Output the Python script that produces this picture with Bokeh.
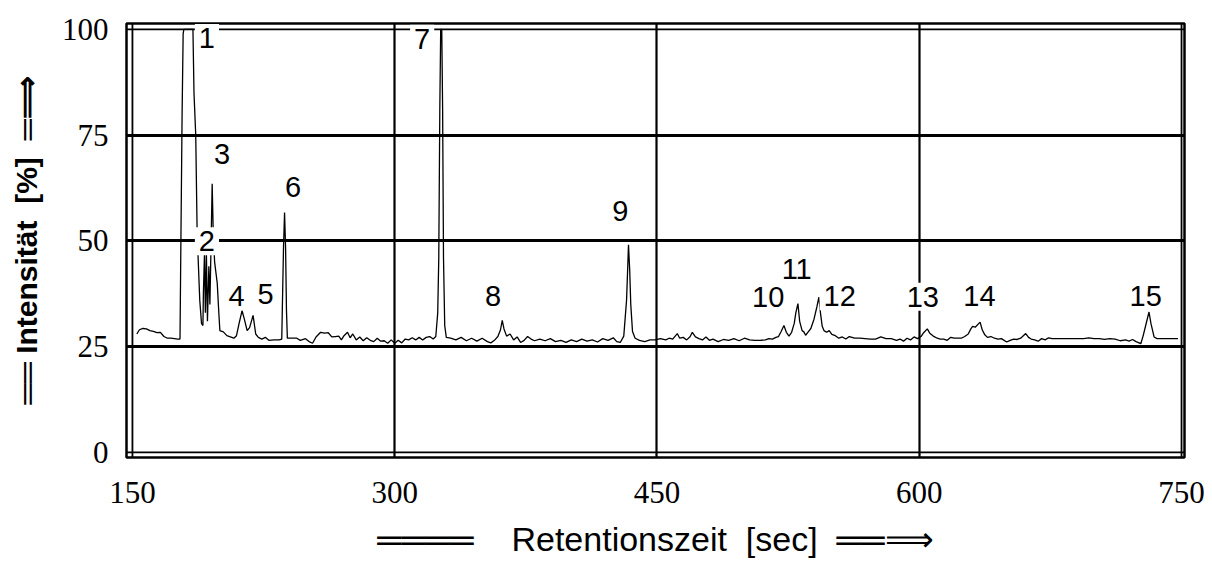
from bokeh.plotting import figure
from bokeh.models import Range1d, Span, ColumnDataSource, FixedTicker
from bokeh.core.properties import value
from bokeh.embed import file_html
from bokeh.resources import INLINE

# Retention time [sec] and intensity [%]
time_s = [152.5, 154, 156, 158, 160, 162, 164, 166, 168, 170, 172, 174, 176, 177.2, 177.6, 178.4, 179, 179.4,
          184.6, 185.2, 186.2, 187.0, 188.5, 189.5, 190.3, 190.6, 191.2, 191.7, 192.3, 192.9, 193.7, 194.3, 195.0,
          195.6, 196.2, 197.0, 198.5, 199.4, 200.0, 202, 204, 206, 208, 209.5, 211, 212.7, 214, 215.6, 217, 219,
          220.5, 222, 224, 226, 228, 231, 234, 235.4, 235.7, 236.4, 237.0, 237.6, 238.1, 238.6, 241, 244, 246, 249,
          251, 253, 255, 257.6, 260, 262, 264, 266, 268, 269.5, 271, 273, 274.5, 276, 278, 280, 282, 284, 286, 288,
          290, 292, 294, 296, 298, 300, 302, 304, 306, 308, 310, 312, 314, 316, 318, 320, 322, 323.5, 324.6, 325.2,
          325.8, 326.3, 326.9, 327.4, 327.9, 328.6, 329.5, 332, 335, 338, 341, 344, 347, 350, 353, 355, 357, 359,
          360.5, 361.5, 362.5, 364, 366, 368, 370, 372, 374, 376, 378, 380, 383, 386, 389, 392, 395, 398, 401, 404,
          407, 410, 413, 416, 419, 422, 425, 427, 429, 431, 432.6, 433.2, 433.7, 434.4, 435.0, 436.0, 437.5, 440,
          443, 446, 449, 452, 455, 457, 459, 461.6, 463, 465, 467, 469, 470.2, 472, 474, 476, 478, 480, 482, 485,
          488, 491, 494, 497, 500, 503, 506, 509, 512, 514, 516, 518, 519.5, 521, 522.6, 524, 525.5, 527, 528.5,
          529.4, 530.6, 531.6, 533, 534, 535, 536.5, 538, 539.8, 541.5, 542.6, 543.5, 544.5, 545.5, 547, 548.5,
          550, 552, 554, 556, 558, 560, 563, 566, 569, 572, 575, 578, 581, 584, 587, 589, 591, 593, 595, 597, 599,
          601, 602.5, 604.6, 606, 608, 610.3, 612, 614, 616, 618, 620, 622, 624, 626, 628, 629.5, 630.5, 632,
          634.8, 636, 637.5, 639, 641, 643, 645, 647, 650, 652, 654, 656, 658, 660.9, 662.5, 664, 666, 668, 670,
          672, 674, 676, 680, 685, 690, 694, 697, 700, 703, 706, 709, 712, 715, 718, 720, 722, 724, 726.7, 728,
          729.5, 731.4, 732.5, 734.3, 736, 740, 744, 748]
intensity = [28.0, 29.0, 29.3, 29.2, 28.8, 28.6, 28.3, 28.4, 27.4, 27.0, 27.0, 26.9, 26.8, 26.8, 45, 80, 99, 100,
             100, 85, 75, 52, 36, 30.5, 30, 38, 47, 33, 47, 31, 44, 35, 50,
             63.5, 52, 45, 40, 33, 28.8, 28.5, 27.6, 27.3, 27.0, 27.6, 30.5, 33.5, 31.5, 28.8, 29.5, 32.4,
             28, 27.2, 26.8, 27.2, 26.5, 26.6, 26.6, 26.8, 33.5, 48.5, 56.7, 48, 33.5, 27.0, 27.0, 27.0, 26.5, 26.9,
             26.2, 25.8, 27.3, 28.4, 28.2, 28.3, 27.3, 27.4, 27.5, 26.6, 27.6, 28.4, 27.1, 28.0, 26.6, 27.3, 26.4,
             27.1, 26.5, 26.2, 27.0, 26.3, 26.4, 25.8, 26.6, 25.8, 26.5, 25.9, 26.8, 26.6, 27.1, 26.6, 27.2, 26.6,
             27.2, 27.4, 26.8, 27.4, 33, 46, 81.6, 100, 100, 81, 46, 30, 27.2, 27.0, 26.6, 27.2, 26.4, 27.0, 26.3,
             27.0, 26.2, 25.9, 26.5, 27.4, 29.0, 31.2, 29.2, 27.5, 28.0, 26.6, 27.3, 26.0, 26.5, 27.4, 26.8, 26.4,
             26.8, 26.4, 26.9, 26.2, 26.5, 26.0, 26.6, 26.2, 26.8, 26.3, 26.6, 26.1, 26.9, 26.5, 27.1, 26.2, 26.0,
             27.5, 36, 43, 49.1, 43, 35, 28.6, 27, 26.5, 26.2, 26.6, 26.6, 26.9, 26.6, 27.0, 26.8, 28.1, 27.0, 27.2,
             26.6, 27.4, 28.4, 27.3, 26.9, 26.6, 27.3, 26.5, 26.8, 26.2, 26.7, 26.5, 26.9, 26.4, 27.0, 26.6, 26.5,
             26.5, 26.6, 26.9, 26.8, 27.2, 27.4, 28.6, 30.0, 28.4, 27.5, 28.4, 30.5, 33, 35.2, 31, 28.8, 28.5, 27.7,
             28.5, 29.3, 31.5, 34.5, 36.7, 33, 29.8, 28.8, 28.4, 28.8, 27.9, 27.6, 27.0, 27.3, 26.8, 27.4, 27.0,
             27.0, 26.9, 26.8, 26.8, 27.3, 26.9, 26.9, 26.5, 26.8, 26.3, 27.0, 26.6, 27.3, 26.9, 27.4, 28.3, 29.2,
             28.2, 27.5, 27.0, 26.8, 26.8, 26.5, 27.2, 27.0, 27.0, 27.0, 27.4, 28.0, 29.2, 29.8, 29.6, 30.8, 29.0,
             27.8, 27.2, 27.4, 27.0, 26.8, 26.9, 26.1, 26.5, 26.8, 26.7, 27.0, 28.1, 27.2, 26.8, 26.6, 26.3, 26.9,
             26.6, 27.1, 26.9, 26.9, 26.9, 26.9, 26.9, 27.1, 26.9, 26.9, 26.7, 26.9, 26.8, 26.4, 26.6, 26.3, 26.7,
             26.2, 25.7, 27.5, 30, 33.2, 30.5, 27.3, 26.9, 26.9, 26.9, 26.9]

# Peak numbers and their label positions
peak_labels = ["1", "2", "3", "4", "5", "6", "7", "8", "9", "10", "11", "12", "13", "14", "15"]
peak_label_x = [192.6, 192.6, 201.3, 209.5, 226.1, 241.8, 315.7, 356.2, 429.0, 513.6, 529.9, 554.5, 602.0, 634.4, 729.5]
peak_label_y = [98.0, 49.9, 70.6, 36.9, 37.4, 62.8, 97.8, 36.9, 57.0, 36.7, 43.4, 36.9, 36.8, 36.9, 36.9]

x_ticks = [150, 300, 450, 600, 750]
y_ticks = [0, 25, 50, 75, 100]
NB = "\u00a0"
x_title = "════" + NB * 4 + "Retentionszeit" + NB * 2 + "[sec]" + NB * 2 + "══⟹"
y_title = "══" + NB + "Intensität" + NB * 2 + "[%]" + NB * 2 + "═⟹"

p = figure(width=1212, height=564, output_backend="svg", toolbar_location=None,
           x_range=Range1d(146.6, 751.7), y_range=Range1d(-1.2, 101.4),
           min_border_left=126, min_border_right=28, min_border_top=23, min_border_bottom=107)
p.background_fill_color = "white"
p.border_fill_color = "white"
p.outline_line_color = "black"
p.outline_line_width = 2.5

# grid
p.xgrid.ticker = FixedTicker(ticks=[300, 450, 600])
p.ygrid.ticker = FixedTicker(ticks=[25, 50, 75])
p.xgrid.grid_line_color = "black"
p.ygrid.grid_line_color = "black"
p.xgrid.grid_line_width = 2.2
p.ygrid.grid_line_width = 2.8

for loc, dim in [(150, "height"), (750, "height"), (0, "width"), (100, "width")]:
    p.add_layout(Span(location=loc, dimension=dim, line_color="black", line_width=1.8, level="underlay"))

# axes
for ax in (p.xaxis[0], p.yaxis[0]):
    ax.axis_line_color = None
    ax.major_tick_line_color = None
    ax.minor_tick_line_color = None
    ax.major_tick_out = 0
    ax.major_tick_in = 0
    ax.major_label_text_font = "Liberation Serif"
    ax.major_label_text_font_size = "31px"
    ax.major_label_text_color = "black"
    ax.axis_label_text_color = "black"
    ax.axis_label_text_font = "Liberation Sans"
p.xaxis[0].ticker = FixedTicker(ticks=x_ticks)
p.yaxis[0].ticker = FixedTicker(ticks=y_ticks)
p.xaxis[0].major_label_standoff = 24
p.yaxis[0].major_label_standoff = 18

p.xaxis[0].axis_label = x_title
p.xaxis[0].axis_label_text_font_size = "34px"
p.xaxis[0].axis_label_text_font_style = "normal"
p.xaxis[0].axis_label_standoff = 14
p.yaxis[0].axis_label = y_title
p.yaxis[0].axis_label_text_font_size = "30px"
p.yaxis[0].axis_label_text_font_style = "bold"
p.yaxis[0].axis_label_standoff = 16

# trace
src = ColumnDataSource(dict(t=time_s, i=intensity))
p.line("t", "i", source=src, line_color="black", line_width=1.3)

# peak labels
lab = ColumnDataSource(dict(x=peak_label_x, y=peak_label_y, t=peak_labels))
p.text("x", "y", text="t", source=lab, text_align="center", text_baseline="middle",
       text_font=value("Liberation Sans"),
       text_font_size="29px", text_color="black",
       background_fill_color="white", padding=4)

open("out.html", "w").write(file_html(p, INLINE))
